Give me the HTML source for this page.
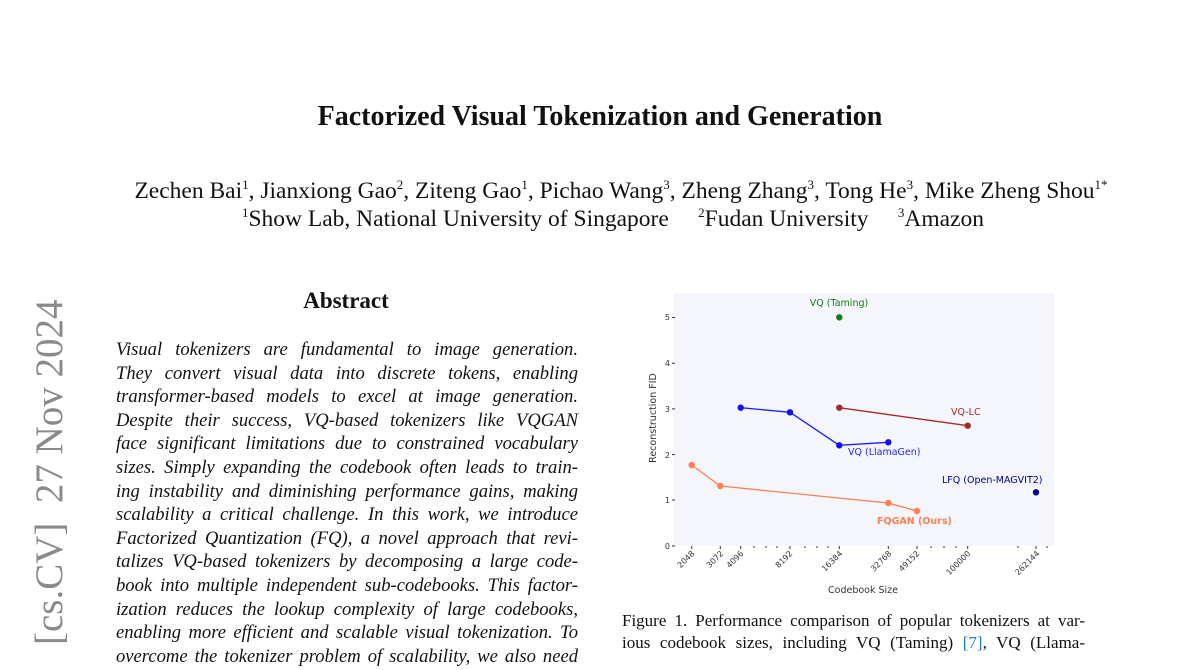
<!DOCTYPE html>
<html><head><meta charset="utf-8"><style>
body{margin:0;width:1200px;height:648px;overflow:hidden;background:#fff;font-family:"Liberation Serif",serif;color:#111;position:relative}
.a{position:absolute;white-space:nowrap}
.ab{position:absolute;left:116px;width:462px;font-style:italic;font-size:18.6px;text-align:justify;text-align-last:justify;white-space:nowrap;height:24px}
.cap{position:absolute;left:622px;width:463px;font-size:17px;text-align:justify;text-align-last:justify;white-space:nowrap}
sup{font-size:13px}
</style></head><body>
<div class="a" style="left:0;width:1200px;text-align:center;top:101px;font-size:28px;font-weight:bold">Factorized Visual Tokenization and Generation</div>
<div class="a" style="left:0;width:1242px;text-align:center;top:177px;font-size:23.5px">Zechen Bai<sup>1</sup>, Jianxiong Gao<sup>2</sup>, Ziteng Gao<sup>1</sup>, Pichao Wang<sup>3</sup>, Zheng Zhang<sup>3</sup>, Tong He<sup>3</sup>, Mike Zheng Shou<sup>1*</sup></div>
<div class="a" style="left:0;width:1226px;text-align:center;top:205px;font-size:23.5px"><sup>1</sup>Show Lab, National University of Singapore &nbsp;&nbsp;&nbsp;&nbsp;<sup>2</sup>Fudan University &nbsp;&nbsp;&nbsp;&nbsp;<sup>3</sup>Amazon</div>
<div class="a" style="left:31px;top:645px;transform-origin:0 0;transform:rotate(-90deg);font-size:39px;color:#8a8a8a;line-height:38px">[cs.CV]&nbsp;&nbsp;27 Nov 2024</div>
<div class="a" style="left:0;width:692px;text-align:center;top:288px;font-size:23px;font-weight:bold">Abstract</div>
<div class="ab" style="top:339px">Visual tokenizers are fundamental to image generation.</div>
<div class="ab" style="top:362.6px">They convert visual data into discrete tokens, enabling</div>
<div class="ab" style="top:386.2px">transformer-based models to excel at image generation.</div>
<div class="ab" style="top:409.8px">Despite their success, VQ-based tokenizers like VQGAN</div>
<div class="ab" style="top:433.4px">face significant limitations due to constrained vocabulary</div>
<div class="ab" style="top:457px">sizes. Simply expanding the codebook often leads to train-</div>
<div class="ab" style="top:480.6px">ing instability and diminishing performance gains, making</div>
<div class="ab" style="top:504.2px">scalability a critical challenge. In this work, we introduce</div>
<div class="ab" style="top:527.8px">Factorized Quantization (FQ), a novel approach that revi-</div>
<div class="ab" style="top:551.4px">talizes VQ-based tokenizers by decomposing a large code-</div>
<div class="ab" style="top:575px">book into multiple independent sub-codebooks. This factor-</div>
<div class="ab" style="top:598.6px">ization reduces the lookup complexity of large codebooks,</div>
<div class="ab" style="top:622.2px">enabling more efficient and scalable visual tokenization. To</div>
<div class="ab" style="top:645.8px">overcome the tokenizer problem of scalability, we also need</div>
<svg class="a" style="left:0;top:0" width="1200" height="648" font-family="DejaVu Sans, sans-serif">
<rect x="674" y="293" width="380" height="253" fill="#f5f6fc"/>
<g font-size="8" fill="#333" text-anchor="end">
<text x="670" y="549">0</text><text x="670" y="503">1</text><text x="670" y="458">2</text><text x="670" y="412">3</text><text x="670" y="366">4</text><text x="670" y="320">5</text>
</g>
<g stroke="#333" stroke-width="1">
<line x1="672" x2="675" y1="546" y2="546"/><line x1="672" x2="675" y1="500" y2="500"/><line x1="672" x2="675" y1="454.6" y2="454.6"/><line x1="672" x2="675" y1="408.9" y2="408.9"/><line x1="672" x2="675" y1="363.2" y2="363.2"/><line x1="672" x2="675" y1="317.5" y2="317.5"/>
<path d="M691.7 546v3M720.3 546v3M740.7 546v3M790 546v3M839.3 546v3M888.3 546v3M917 546v3M967.7 546v3M1036 546v3M754 546v2M766 546v2M777 546v2M805 546v2M817 546v2M828 546v2M931 546v2M944 546v2M956 546v2M1018 546v2M1047 546v2" />
</g>
<g font-size="8" fill="#333" text-anchor="end">
<text transform="translate(695,554) rotate(-45)">2048</text>
<text transform="translate(724,554) rotate(-45)">3072</text>
<text transform="translate(744,554) rotate(-45)">4096</text>
<text transform="translate(793,554) rotate(-45)">8192</text>
<text transform="translate(843,554) rotate(-45)">16384</text>
<text transform="translate(892,554) rotate(-45)">32768</text>
<text transform="translate(920,554) rotate(-45)">49152</text>
<text transform="translate(971,554) rotate(-45)">100000</text>
<text transform="translate(1040,554) rotate(-45)">262144</text>
</g>
<text x="863" y="593" font-size="9.5" fill="#333" text-anchor="middle">Codebook Size</text>
<text transform="translate(656,418) rotate(-90)" font-size="9.5" fill="#333" text-anchor="middle">Reconstruction FID</text>
<polyline points="740.7,407.7 790,412.3 839.3,445.3 888.3,442.3" fill="none" stroke="#1f1fff" stroke-width="1.3"/>
<g fill="#1010ff"><circle cx="740.7" cy="407.7" r="3.2"/><circle cx="790" cy="412.3" r="3.2"/><circle cx="839.3" cy="445.3" r="3.2"/><circle cx="888.3" cy="442.3" r="3.2"/></g>
<polyline points="839.3,407.7 967.7,425.7" fill="none" stroke="#a52a2a" stroke-width="1.3"/>
<g fill="#a52a2a"><circle cx="839.3" cy="407.7" r="3.2"/><circle cx="967.7" cy="425.7" r="3.2"/></g>
<polyline points="691.7,465 720.3,486 888.3,503 917,511" fill="none" stroke="#ff7f50" stroke-width="1.3"/>
<g fill="#ff7f50"><circle cx="691.7" cy="465" r="3.2"/><circle cx="720.3" cy="486" r="3.2"/><circle cx="888.3" cy="503" r="3.2"/><circle cx="917" cy="511" r="3.2"/></g>
<circle cx="839.3" cy="317.3" r="3.2" fill="#108010"/>
<circle cx="1036" cy="492.3" r="3.2" fill="#000080"/>
<text x="839" y="306" font-size="9.5" fill="#108010" text-anchor="middle">VQ (Taming)</text>
<text x="951" y="415" font-size="9.5" fill="#a52a2a">VQ-LC</text>
<text x="848" y="455" font-size="9.5" fill="#1f1fff">VQ (LlamaGen)</text>
<text x="942" y="483" font-size="9.5" fill="#000080">LFQ (Open-MAGVIT2)</text>
<text x="877" y="524" font-size="9.5" fill="#ff7f50" font-weight="bold">FQGAN (Ours)</text>
</svg>
<div class="cap" style="top:611px">Figure 1. Performance comparison of popular tokenizers at var-</div>
<div class="cap" style="top:633px">ious codebook sizes, including VQ (Taming) <span style="color:#2a7ab8">[7]</span>, VQ (Llama-</div>
</body></html>
